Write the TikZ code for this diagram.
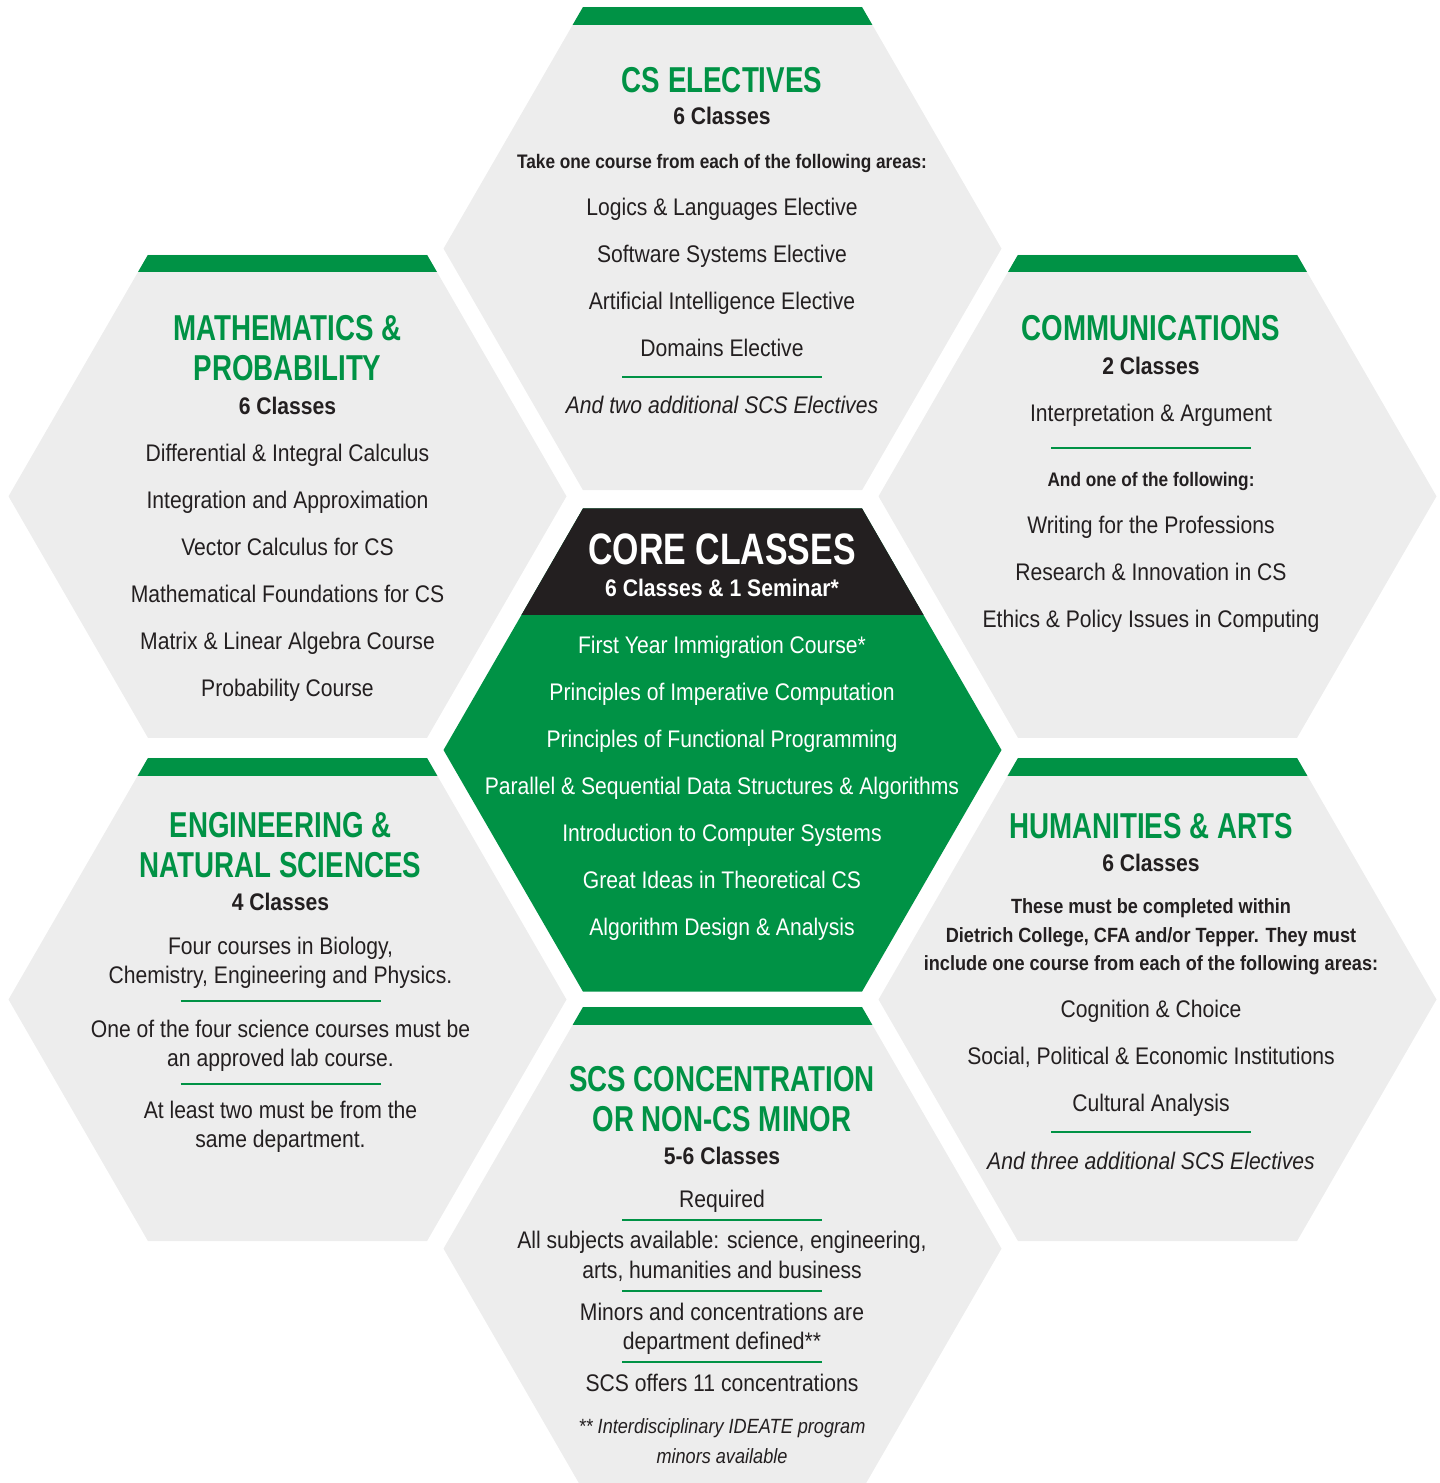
\documentclass[tikz,border=0pt]{standalone}
\usepackage{fontspec}
\setmainfont{Liberation Sans}[FakeStretch=0.88]
\newfontfamily\headfont{Liberation Sans}[FakeStretch=0.77]
\usetikzlibrary{shapes.geometric}

\definecolor{cmugreen}{RGB}{0,146,69}
\definecolor{cellgray}{RGB}{237,237,237}
\definecolor{ink}{RGB}{35,31,32}

\tikzset{
  cell/.style={regular polygon, regular polygon sides=6, minimum size=279pt, inner sep=0pt, fill=cellgray,
    path picture={\fill[cmugreen] (path picture bounding box.north west) rectangle ([yshift=-8.9pt]path picture bounding box.north east);}},
  core/.style={regular polygon, regular polygon sides=6, minimum size=279pt, inner sep=0pt, fill=cmugreen,
    path picture={\fill[ink] (path picture bounding box.north west) rectangle ([yshift=-53.3pt]path picture bounding box.north east);}},
  head/.style={anchor=base, inner sep=0pt, text=cmugreen, font=\headfont\bfseries\fontsize{18}{20}\selectfont},
  classes/.style={anchor=base, inner sep=0pt, text=ink, font=\bfseries\fontsize{12}{14}\selectfont},
  lead/.style={anchor=base, inner sep=0pt, text=ink, font=\bfseries\fontsize{9.8}{12}\selectfont},
  wide lead/.style={lead, font=\bfseries\fontsize{10.3}{12}\selectfont},
  course/.style={anchor=base, inner sep=0pt, text=ink, font=\fontsize{12}{14}\selectfont},
  extra/.style={course, font=\itshape\fontsize{12}{14}\selectfont},
  note/.style={course, font=\itshape\fontsize{10.3}{12}\selectfont},
  rule/.style={draw=cmugreen, line width=1.35pt}
}

\begin{document}
\begin{tikzpicture}[x=0.5pt,y=-0.5pt]
  \useasboundingbox (0,0) rectangle (1440,1483);
  \clip (0,0) rectangle (1440,1483);

  % honeycomb
  \node[cell] (cs)   at (722.5,248.6)  {};
  \node[cell] (math) at (287.5,496.3)  {};
  \node[cell] (comm) at (1157.5,496.3) {};
  \node[core] (core) at (722.5,750)    {};
  \node[cell] (eng)  at (287.5,999.5)  {};
  \node[cell] (hum)  at (1157.5,999.5) {};
  \node[cell] (conc) at (722.5,1248.6) {};

  % CS electives
  \node[head]    (cs-title) at (722,92)  {CS ELECTIVES};
  \node[classes] (cs-n)     at (722,124) {6 Classes};
  \node[lead]    (cs-lead)  at (722,168) {Take one course from each of the following areas:};
  \foreach \txt [count=\i from 0] in {Logics \& Languages Elective, Software Systems Elective,
      Artificial Intelligence Elective, Domains Elective}
    \node[course] (cs-\i) at (722,{215.5+47*\i}) {\txt};
  \draw[rule] (622,377) -- (822,377);
  \node[extra]   (cs-more)  at (722,413) {And two additional SCS Electives};

  % mathematics
  \node[head]    (math-t1) at (287.5,340) {MATHEMATICS \&};
  \node[head]    (math-t2) at (287.5,380) {PROBABILITY};
  \node[classes] (math-n)  at (287.5,414) {6 Classes};
  \foreach \txt [count=\i from 0] in {Differential \& Integral Calculus, Integration and Approximation,
      Vector Calculus for CS, Mathematical Foundations for CS, Matrix \& Linear Algebra Course, Probability Course}
    \node[course] (math-\i) at (287.5,{461+47*\i}) {\txt};

  % communications
  \node[head]    (comm-title) at (1151,340) {COMMUNICATIONS};
  \node[classes] (comm-n)     at (1151,374) {2 Classes};
  \node[course]  (comm-req)   at (1151,421) {Interpretation \& Argument};
  \draw[rule] (1051,448) -- (1251,448);
  \node[lead]    (comm-lead)  at (1151,486) {And one of the following:};
  \foreach \txt [count=\i from 0] in {Writing for the Professions, Research \& Innovation in CS,
      Ethics \& Policy Issues in Computing}
    \node[course] (comm-\i) at (1151,{533+47*\i}) {\txt};

  % core
  \node[anchor=base, inner sep=0pt, text=white, font=\headfont\bfseries\fontsize{22}{24}\selectfont]
    (core-title) at (722,564.5) {CORE CLASSES};
  \node[classes, text=white] (core-n) at (722,596.5) {6 Classes \& 1 Seminar*};
  \foreach \txt [count=\i from 0] in {First Year Immigration Course*, Principles of Imperative Computation,
      Principles of Functional Programming, Parallel \& Sequential Data Structures \& Algorithms,
      Introduction to Computer Systems, Great Ideas in Theoretical CS, Algorithm Design \& Analysis}
    \node[course, text=white] (core-\i) at (722,{653.5+47*\i}) {\txt};

  % engineering
  \node[head]    (eng-t1) at (280.5,837) {ENGINEERING \&};
  \node[head]    (eng-t2) at (280.5,877) {NATURAL SCIENCES};
  \node[classes] (eng-n)  at (280.5,910) {4 Classes};
  \node[course]  (eng-a1) at (280.5,954) {Four courses in Biology,};
  \node[course]  (eng-a2) at (280.5,983) {Chemistry, Engineering and Physics.};
  \draw[rule] (180.5,1001) -- (380.5,1001);
  \node[course]  (eng-b1) at (280.5,1037) {One of the four science courses must be};
  \node[course]  (eng-b2) at (280.5,1066) {an approved lab course.};
  \draw[rule] (180.5,1084) -- (380.5,1084);
  \node[course]  (eng-c1) at (280.5,1118) {At least two must be from the};
  \node[course]  (eng-c2) at (280.5,1147) {same department.};

  % humanities
  \node[head]      (hum-title) at (1151,838) {HUMANITIES \& ARTS};
  \node[classes]   (hum-n)     at (1151,871) {6 Classes};
  \node[wide lead] (hum-l1)    at (1151,913) {These must be completed within};
  \node[wide lead] (hum-l2)    at (1151,942) {Dietrich College, CFA and/or Tepper. They must};
  \node[wide lead] (hum-l3)    at (1151,970) {include one course from each of the following areas:};
  \foreach \txt [count=\i from 0] in {Cognition \& Choice, {Social, Political \& Economic Institutions},
      Cultural Analysis}
    \node[course] (hum-\i) at (1151,{1017.5+47*\i}) {\txt};
  \draw[rule] (1051,1132) -- (1251,1132);
  \node[extra]     (hum-more)  at (1151,1169.5) {And three additional SCS Electives};

  % concentration
  \node[head]    (conc-t1)  at (722,1091) {SCS CONCENTRATION};
  \node[head]    (conc-t2)  at (722,1131) {OR NON-CS MINOR};
  \node[classes] (conc-n)   at (722,1164) {5-6 Classes};
  \node[course]  (conc-req) at (722,1207.5) {Required};
  \draw[rule] (622,1220) -- (822,1220);
  \node[course]  (conc-a1)  at (722,1248.5) {All subjects available: science, engineering,};
  \node[course]  (conc-a2)  at (722,1278.5) {arts, humanities and business};
  \draw[rule] (622,1291) -- (822,1291);
  \node[course]  (conc-b1)  at (722,1320.5) {Minors and concentrations are};
  \node[course]  (conc-b2)  at (722,1349.5) {department defined**};
  \draw[rule] (622,1362) -- (822,1362);
  \node[course]  (conc-c)   at (722,1391.5) {SCS offers 11 concentrations};
  \node[note]    (conc-n1)  at (722,1433.5) {** Interdisciplinary IDEATE program};
  \node[note]    (conc-n2)  at (722,1463)   {minors available};
\end{tikzpicture}
\end{document}
